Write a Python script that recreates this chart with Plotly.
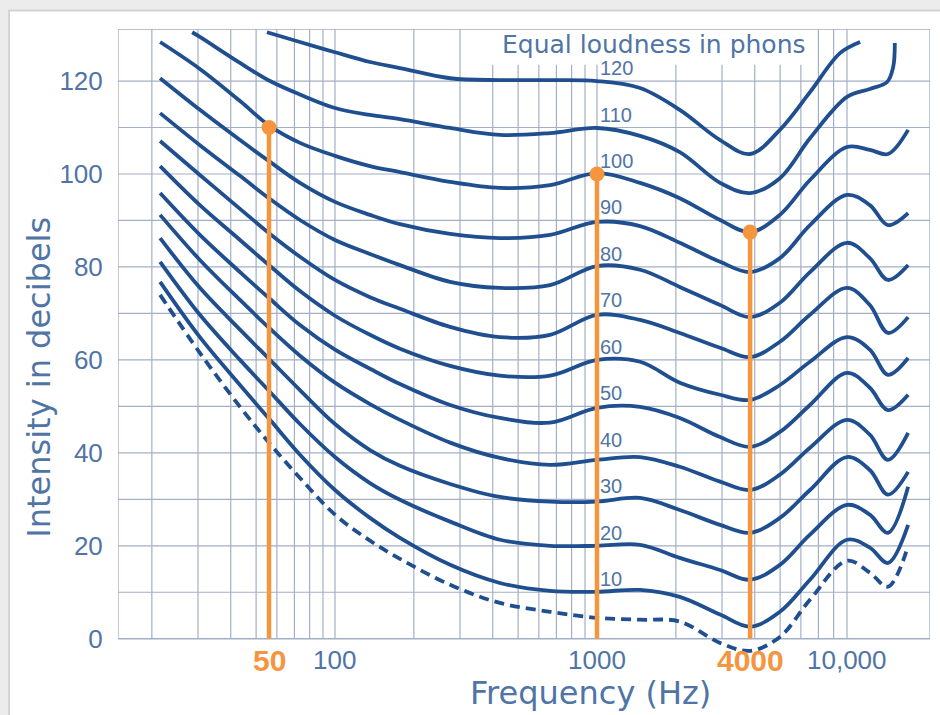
import numpy as np
import plotly.graph_objects as go

# ---------------- data ----------------
FREQ = [21.5, 30.5, 43.4, 56.5, 73.5, 100, 136, 177, 275, 426, 662, 1000, 1460,
        2070, 2950, 3840, 4990, 6500, 9000, 11000, 12900, 15400]

threshold_db = [74.0, 61.5, 49.9, 41.9, 34.6, 26.7, 21.1, 17.2, 11.6, 7.7, 5.8, 4.5, 4.1,
                3.7, -0.9, -2.6, 0.4, 8.4, 16.8, 14.2, 11.2, 20.0]
db_10 = [76.8, 64.9, 54.6, 47.1, 39.6, 32.0, 26.0, 21.7, 15.9, 12.0, 10.3, 10.1, 10.5,
         9.0, 5.2, 2.6, 5.8, 12.7, 21.3, 19.6, 16.3, 24.5]
db_20 = [81.1, 69.7, 60.0, 53.1, 46.2, 39.1, 33.5, 29.9, 25.2, 21.3, 20.0, 20.0, 20.2,
         17.4, 14.8, 12.7, 15.9, 22.4, 28.8, 26.7, 22.8, 32.7]
db_30 = [86.2, 75.5, 66.5, 60.0, 53.5, 46.2, 40.6, 37.2, 33.3, 30.5, 29.5, 29.5, 30.3,
         27.7, 24.5, 22.8, 26.0, 32.0, 39.1, 36.3, 31.0, 35.9]
db_40 = [91.2, 81.5, 72.9, 66.7, 60.9, 55.1, 50.5, 47.1, 42.2, 38.9, 37.4, 38.5, 39.1,
         37.0, 33.8, 32.0, 35.3, 41.1, 47.1, 43.9, 38.5, 44.3]
db_50 = [95.9, 86.9, 78.9, 73.1, 67.5, 62.2, 58.1, 54.8, 50.3, 47.5, 46.5, 49.7, 49.9,
         47.5, 43.4, 41.3, 44.5, 50.3, 57.2, 54.0, 49.2, 52.5]
db_60 = [101.7, 93.3, 85.8, 80.2, 74.8, 69.5, 65.4, 62.4, 58.7, 56.6, 56.6, 60.0, 59.6,
         55.1, 52.5, 51.4, 54.6, 59.6, 64.9, 62.2, 56.8, 60.4]
db_70 = [107.1, 99.8, 92.5, 87.1, 82.2, 77.2, 73.5, 71.0, 67.1, 64.9, 65.4, 69.7, 68.6,
         65.8, 62.6, 60.6, 63.9, 69.7, 75.5, 71.8, 65.8, 69.2]
db_80 = [113.1, 106.2, 99.6, 94.6, 90.1, 85.8, 82.8, 80.4, 76.8, 75.5, 76.1, 80.2, 79.4,
         75.7, 71.8, 69.2, 72.3, 78.9, 85.2, 81.9, 77.2, 80.4]
db_90 = [120.6, 113.8, 107.3, 102.6, 98.1, 94.0, 91.2, 89.2, 87.1, 86.2, 86.9, 89.7, 88.8,
         85.2, 81.1, 78.9, 81.9, 89.0, 95.5, 93.3, 89.0, 91.6]
db_100 = [128.4, 122.6, 115.7, 110.3, 106.7, 103.9, 101.7, 100.4, 98.3, 97.0, 97.6, 100.2, 98.1,
          94.8, 90.1, 87.5, 91.2, 98.7, 105.8, 105.2, 104.3, 109.5]

freq_110 = [28.5, 30.5, 43.4, 56.5, 73.5, 100, 136, 177, 275, 426, 662, 1000, 1460,
            2070, 2950, 3840, 4990, 6500, 9000, 11000, 12800, 13500, 13700]
db_110 = [130.5, 129.5, 123.9, 120.0, 117.1, 114.2, 112.7, 111.8, 109.9, 108.4, 108.8, 109.9, 108.2,
          104.7, 98.1, 95.9, 99.1, 107.7, 116.6, 118.3, 119.8, 123.0, 128.2]

freq_120 = [55, 73.5, 100, 136, 177, 275, 426, 662, 1000, 1460, 2070, 2950, 3840,
            4990, 6500, 8460, 10100]
db_120 = [130.5, 128.4, 126.2, 124.1, 122.8, 120.6, 120.2, 120.2, 120.0, 118.5, 113.8, 107.3, 104.3,
          109.5, 117.6, 126.0, 128.4]

phon_levels = [10, 20, 30, 40, 50, 60, 70, 80, 90, 100, 110, 120]

grid_freqs = [20, 30, 40, 50, 60, 70, 80, 90,
              100, 200, 300, 400, 500, 600, 700, 800, 900,
              1000, 2000, 3000, 4000, 5000, 6000, 7000, 8000, 9000]
grid_db = [10, 20, 30, 40, 50, 60, 70, 80, 90, 100, 110, 120]
y_tick_vals = [0, 20, 40, 60, 80, 100, 120]
x_tick_freqs = [100, 1000, 10000]
x_tick_text = ["100", "1000", "10,000"]

marker_freqs = [56, 1000, 3840]
marker_db = [110, 100, 87.5]
marker_labels = ["50", "", "4000"]

# ---------------- style ----------------
CURVE = "#1f4f8f"
GRID = "#a3afc6"
TEXT = "#4f74a5"
ORANGE = "#f5953d"
FONT = "Liberation Sans, Arial, sans-serif"
TITLE_FONT = "DejaVu Sans, Liberation Sans, sans-serif"

X_RANGE = [1.1718, 4.2710]
Y_TOP = 131.2
Y_RANGE = [-3.5, Y_TOP]
x_left, x_right = 10 ** X_RANGE[0], 10 ** X_RANGE[1]

fig = go.Figure()

solid = [(FREQ, db_10), (FREQ, db_20), (FREQ, db_30), (FREQ, db_40), (FREQ, db_50),
         (FREQ, db_60), (FREQ, db_70), (FREQ, db_80), (FREQ, db_90), (FREQ, db_100),
         (freq_110, db_110), (freq_120, db_120)]
for (fx, fy), ph in zip(solid, phon_levels):
    fig.add_trace(go.Scatter(x=fx, y=fy, mode="lines", name=f"{ph} phons",
                             line=dict(color=CURVE, width=3.8, shape="spline", smoothing=1.0),
                             hoverinfo="skip", showlegend=False))

fig.add_trace(go.Scatter(x=FREQ, y=threshold_db, mode="lines", name="threshold",
                         line=dict(color=CURVE, width=3.8, dash="10px,6px", shape="spline",
                                   smoothing=1.0),
                         hoverinfo="skip", showlegend=False))

# orange reference markers
for f, d in zip(marker_freqs, marker_db):
    fig.add_trace(go.Scatter(x=[f, f], y=[0, d], mode="lines",
                             line=dict(color=ORANGE, width=4.5),
                             hoverinfo="skip", showlegend=False))
fig.add_trace(go.Scatter(x=marker_freqs, y=marker_db, mode="markers",
                         marker=dict(color=ORANGE, size=15),
                         hoverinfo="skip", showlegend=False))

# ---------------- grid, frame ----------------
shapes = []
# card background
shapes.append(dict(type="rect", xref="paper", yref="paper", x0=-0.1342, x1=1.03,
                   y0=-0.12, y1=1.0294, fillcolor="white",
                   line=dict(color="#d4d4d4", width=2), layer="below"))
for f in grid_freqs:
    shapes.append(dict(type="line", xref="x", yref="y", x0=f, x1=f, y0=0, y1=Y_TOP,
                       line=dict(color=GRID, width=1.2), layer="below"))
for d in grid_db:
    shapes.append(dict(type="line", xref="x", yref="y", x0=x_left, x1=x_right, y0=d, y1=d,
                       line=dict(color=GRID, width=1.2), layer="below"))
# white box behind the title text
shapes.append(dict(type="rect", xref="x", yref="y", x0=390, x1=6600, y0=123.5, y1=Y_TOP,
                   fillcolor="white", line=dict(width=0), layer="below"))
# frame
shapes.append(dict(type="rect", xref="x", yref="y", x0=x_left, x1=x_right, y0=0, y1=Y_TOP,
                   line=dict(color=GRID, width=1.3), layer="below"))

annotations = []
for f, t in zip(x_tick_freqs, x_tick_text):
    annotations.append(dict(x=np.log10(f), y=0, xref="x", yref="y", text=t, showarrow=False,
                            xanchor="center", yanchor="top", yshift=-4,
                            xshift=-12 if f == 10000 else 0,
                            font=dict(family=FONT, size=26, color=TEXT)))
for f, lab in zip(marker_freqs, marker_labels):
    if lab:
        annotations.append(dict(x=np.log10(f), y=0, xref="x", yref="y", text=f"<b>{lab}</b>",
                                showarrow=False, xanchor="center", yanchor="top", yshift=-3,
                                font=dict(family=FONT, size=30, color=ORANGE)))
for ph in phon_levels:
    annotations.append(dict(x=3.0, y=ph, xref="x", yref="y", text=str(ph), showarrow=False,
                            xanchor="left", yanchor="middle", xshift=1, yshift=13,
                            font=dict(family=FONT, size=20, color=TEXT)))
annotations.append(dict(x=(500 - 118) / 812, y=0.976, xref="paper", yref="paper",
                        text="Equal loudness in phons", showarrow=False,
                        xanchor="left", yanchor="middle",
                        font=dict(family=TITLE_FONT, size=25, color=TEXT)))
annotations.append(dict(x=(590 - 118) / 812, y=-0.06, xref="paper", yref="paper",
                        text="Frequency (Hz)", showarrow=False,
                        xanchor="center", yanchor="middle",
                        font=dict(family=TITLE_FONT, size=32, color=TEXT)))
annotations.append(dict(x=(39 - 118) / 812, y=0.443, xref="paper", yref="paper",
                        text="Intensity in decibels", showarrow=False, textangle=-90,
                        xanchor="center", yanchor="middle",
                        font=dict(family=TITLE_FONT, size=32, color=TEXT)))

fig.update_layout(
    width=940, height=715,
    margin=dict(l=118, r=10, t=29, b=60),
    paper_bgcolor="#ececec", plot_bgcolor="white",
    shapes=shapes, annotations=annotations,
    xaxis=dict(type="log", range=X_RANGE, showgrid=False, zeroline=False,
               showticklabels=False, ticks="", showline=False),
    yaxis=dict(range=Y_RANGE, showgrid=False, zeroline=False, showline=False,
               tickmode="array", tickvals=y_tick_vals,
               ticktext=[str(v) for v in y_tick_vals],
               ticks="outside", ticklen=9, tickcolor="rgba(0,0,0,0)",
               tickfont=dict(family=FONT, size=26, color=TEXT)),
    showlegend=False,
)

fig.write_html("out.html",
               config={"displayModeBar": False},
               post_script="document.body.style.margin='0';"
                           "document.body.style.background='#ececec';")
